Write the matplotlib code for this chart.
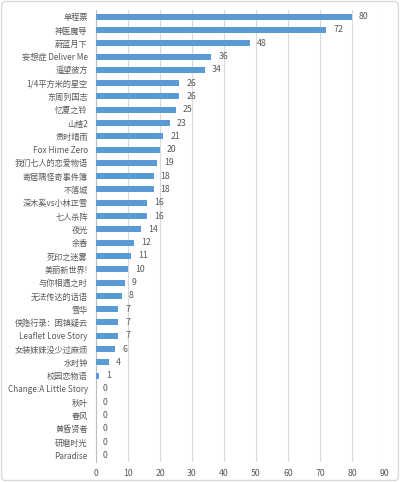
import matplotlib
matplotlib.use("Agg")
import matplotlib.pyplot as plt
from matplotlib.patches import FancyBboxPatch

plt.rcParams['font.family'] = ['Noto Sans CJK SC', 'DejaVu Sans']

# Titles and vote counts, top to bottom
titles = [
    "单程票", "神医魔导", "蔚蓝月下", "妄想症 Deliver Me", "遥望彼方",
    "1/4平方米的星空", "东周列国志", "忆夏之铃", "山楂2", "贵时晴雨",
    "Fox Hime Zero", "我们七人的恋爱物语", "寄居隅怪奇事件簿", "不落城",
    "深木奚vs小林正雪", "七人杀阵", "夜光", "余香", "死印之迷雾",
    "美丽新世界!", "与你相遇之时", "无法传达的话语", "雪华",
    "侠隐行录：困镇疑云", "Leaflet Love Story", "女装妹妹没少过麻烦",
    "水时钟", "校园恋物语", "Change:A Little Story", "秋叶", "春风",
    "黄昏贤者", "研磨时光", "Paradise",
]
votes = [
    80, 72, 48, 36, 34, 26, 26, 25, 23, 21, 20, 19, 18, 18, 16, 16, 14,
    12, 11, 10, 9, 8, 7, 7, 7, 6, 4, 1, 0, 0, 0, 0, 0, 0,
]
x_ticks = list(range(0, 100, 10))

text_color = "#595959"
bar_color = "#5B9BD5"

fig = plt.figure(figsize=(4.0, 4.82), dpi=100)
# light frame round the chart area
fig.patches.append(FancyBboxPatch((0.004, 0.003), 0.992, 0.994,
                                  boxstyle="round,pad=0,rounding_size=0.01",
                                  transform=fig.transFigure, fill=False,
                                  edgecolor="#D9D9D9", linewidth=1.0))

ax = fig.add_axes([96 / 400, 1 - 462 / 482, (384 - 96) / 400, (462 - 10) / 482])

y = list(range(len(titles)))
ax.barh(y, votes, height=0.45, color=bar_color, zorder=3)

for yi, v in zip(y, votes):
    ax.text(v + 2.2, yi, str(v), va="center", ha="left",
            fontsize=6.3, color=text_color)

ax.set_yticks(y)
ax.set_yticklabels(titles, fontsize=5.9, color=text_color)
ax.set_ylim(len(titles) - 0.5, -0.5)
ax.set_xlim(0, 90)
ax.set_xticks(x_ticks)
ax.set_xticklabels([str(t) for t in x_ticks], fontsize=6.3, color=text_color)
ax.tick_params(axis="y", length=0, pad=6)
ax.tick_params(axis="x", length=0, pad=5)

ax.grid(axis="x", color="#D9D9D9", linewidth=0.8, zorder=0)
for side in ["top", "right", "bottom"]:
    ax.spines[side].set_visible(False)
ax.spines["left"].set_color("#BFBFBF")
ax.spines["left"].set_linewidth(0.8)

fig.savefig("out.png", dpi=100)
